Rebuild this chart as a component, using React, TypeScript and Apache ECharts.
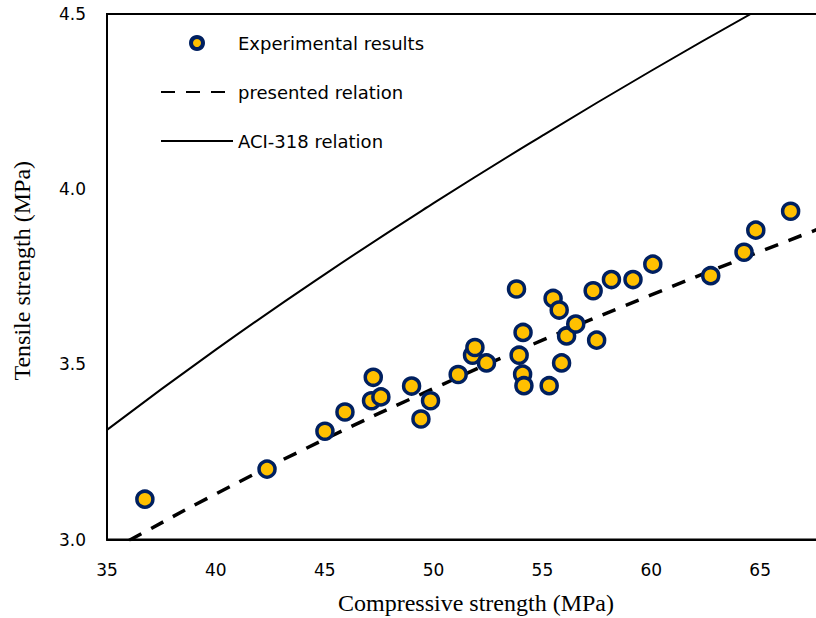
import React, { useEffect, useRef } from "react";
import * as echarts from "echarts";

const xTicks = [35, 40, 45, 50, 55, 60, 65, 70];
const yTicks = [3.0, 3.5, 4.0, 4.5];

const experimentalFc = [
  36.74, 42.35, 45.01, 45.93, 47.15, 47.23, 47.58, 48.99, 49.42, 49.86,
  51.13, 51.79, 51.9, 52.43, 53.81, 53.93, 54.11, 54.09, 54.15, 55.31,
  55.49, 55.77, 55.88, 56.11, 56.53, 57.33, 57.49, 58.17, 59.16, 60.07,
  62.73, 64.26, 64.8, 66.4,
];
const experimentalFt = [
  3.115, 3.201, 3.309, 3.364, 3.396, 3.463, 3.407, 3.438, 3.344, 3.396,
  3.471, 3.526, 3.548, 3.504, 3.715, 3.526, 3.591, 3.472, 3.439, 3.439,
  3.688, 3.655, 3.504, 3.581, 3.615, 3.71, 3.569, 3.742, 3.742, 3.786,
  3.753, 3.82, 3.883, 3.937,
];

const presentedFc = [35, 36, 40, 45, 50, 55, 60, 65, 70];
const presentedFt = [2.963, 2.997, 3.13, 3.286, 3.431, 3.569, 3.698, 3.822, 3.941];

const aciFc = [35, 40, 45, 50, 55, 60, 65, 70];
const aciFt = [3.313, 3.542, 3.757, 3.96, 4.153, 4.338, 4.515, 4.685];

const seriesNames = ["Experimental results", "presented relation", "ACI-318 relation"];

const zip = (a: number[], b: number[]) => a.map((v, i) => [v, b[i]]);

export default function App() {
  const ref = useRef<HTMLDivElement>(null);
  useEffect(() => {
    if (!ref.current) return;
    const chart = echarts.init(ref.current, null, { renderer: "svg" });
    chart.setOption({
      animation: false,
      backgroundColor: "#fff",
      grid: {
        left: 107,
        top: 14,
        width: 762,
        height: 525.5,
        show: true,
        borderColor: "#000",
        borderWidth: 2,
        backgroundColor: "transparent",
        containLabel: false,
        outerBoundsMode: "none",
      },
      legend: {
        orient: "vertical",
        left: 155,
        top: 29,
        itemWidth: 72,
        itemHeight: 12,
        itemGap: 31,
        textStyle: { fontFamily: "DejaVu Sans", fontSize: 18, color: "#000" },
        data: [
          { name: seriesNames[0], itemStyle: { color: "#FFC000", borderColor: "#002060", borderWidth: 4 } },
          { name: seriesNames[1], itemStyle: { opacity: 0 } },
          { name: seriesNames[2], itemStyle: { opacity: 0 } },
        ],
      },
      xAxis: {
        type: "value",
        min: xTicks[0],
        max: xTicks[xTicks.length - 1],
        interval: 5,
        name: "Compressive strength (MPa)",
        nameLocation: "middle",
        nameGap: 51,
        nameTextStyle: {
          fontFamily: "Liberation Serif",
          fontSize: 24,
          color: "#000",
          padding: [0, 24, 0, 0],
        },
        axisLine: { show: true, lineStyle: { color: "#000", width: 2 } },
        axisTick: { show: false },
        splitLine: { show: false },
        axisLabel: {
          fontFamily: "DejaVu Sans",
          fontSize: 17,
          color: "#000",
          margin: 22,
          showMaxLabel: false,
        },
      },
      yAxis: {
        type: "value",
        min: yTicks[0],
        max: yTicks[yTicks.length - 1],
        interval: 0.5,
        name: "Tensile strength (MPa)",
        nameLocation: "middle",
        nameGap: 73,
        nameTextStyle: {
          fontFamily: "Liberation Serif",
          fontSize: 24,
          color: "#000",
          padding: [0, 0, 0, 12],
        },
        axisLine: { show: true, lineStyle: { color: "#000", width: 2 } },
        axisTick: { show: false },
        splitLine: { show: false },
        axisLabel: {
          fontFamily: "DejaVu Sans",
          fontSize: 17,
          color: "#000",
          margin: 21,
          formatter: (v: number) => v.toFixed(1),
        },
      },
      series: [
        {
          name: seriesNames[2],
          type: "line",
          data: zip(aciFc, aciFt),
          smooth: true,
          symbol: "none",
          clip: true,
          lineStyle: { color: "#000", width: 2, type: "solid" },
          itemStyle: { color: "#000" },
          z: 2,
        },
        {
          name: seriesNames[1],
          type: "line",
          data: zip(presentedFc, presentedFt),
          smooth: true,
          symbol: "none",
          clip: true,
          lineStyle: { color: "#000", width: 3.5, type: [14, 11] },
          itemStyle: { color: "#000" },
          z: 3,
        },
        {
          name: seriesNames[0],
          type: "scatter",
          data: zip(experimentalFc, experimentalFt),
          symbol: "circle",
          symbolSize: 16,
          itemStyle: { color: "#FFC000", borderColor: "#002060", borderWidth: 3.5, opacity: 1 },
          z: 4,
        },
      ],
    });
    return () => chart.dispose();
  }, []);
  return (
    <div
      ref={ref}
      style={{ position: "fixed", left: 0, top: 0, width: 816, height: 618, background: "#fff" }}
    />
  );
}
